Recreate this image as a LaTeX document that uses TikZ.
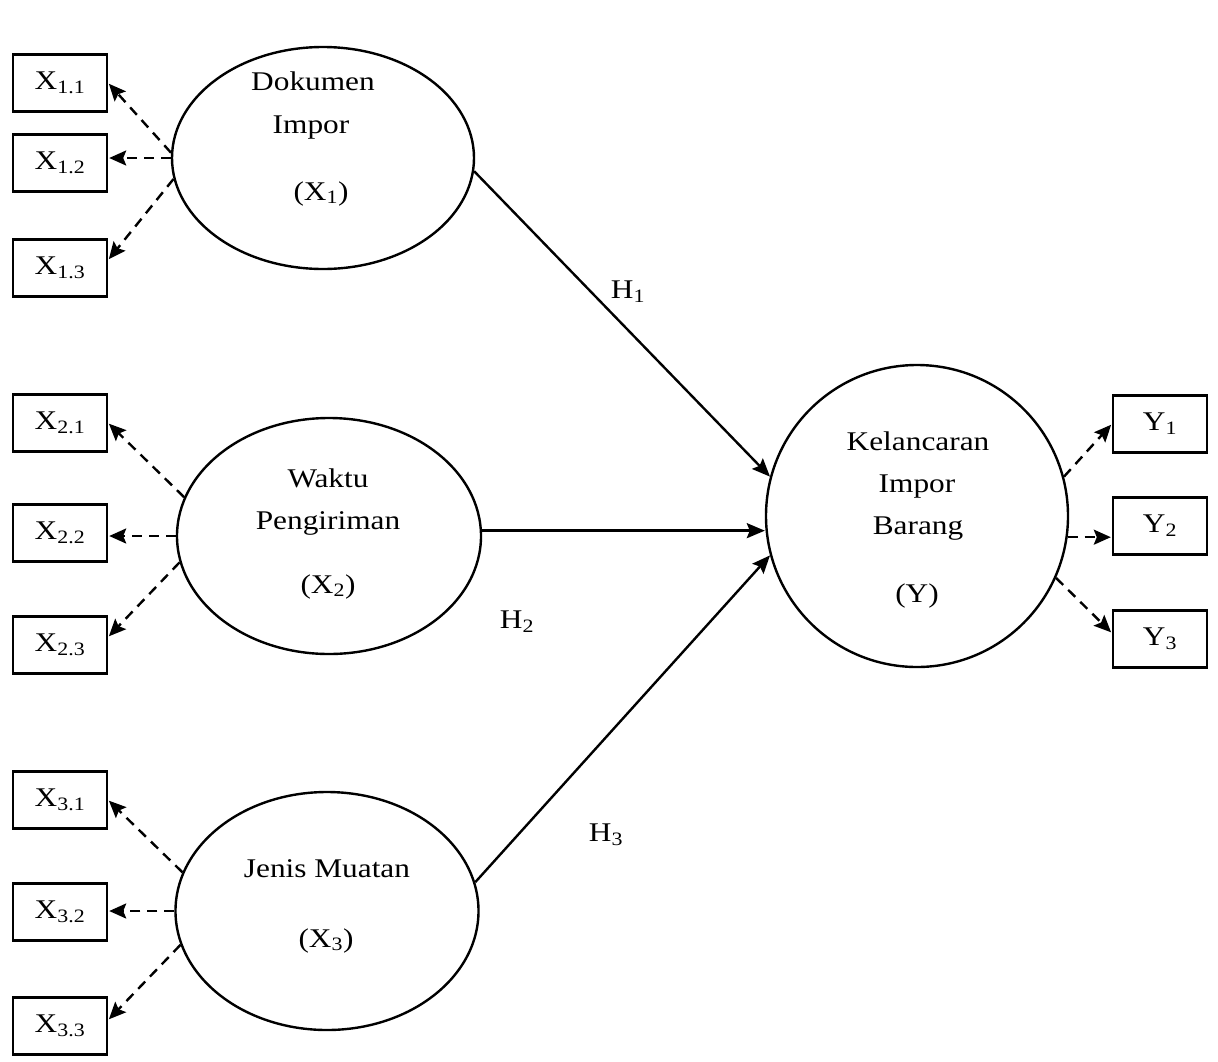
\documentclass[tikz,border=0pt]{standalone}
\usepackage{fontspec}
\setmainfont{Liberation Serif}[FakeStretch=1.16]
\usetikzlibrary{arrows.meta,calc,shapes.geometric}
\begin{document}
\begin{tikzpicture}[x=1pt,y=-1pt,
  font=\fontsize{27}{31}\selectfont,
  latent/.style={ellipse,draw,line width=2.4pt,inner sep=0pt},
  indbox/.style={rectangle,draw,line width=2.4pt,minimum width=94pt,minimum height=57pt,inner sep=0pt},
  txt/.style={anchor=base,inner sep=0pt},
  loadarrow/.style={line width=2.4pt,dash pattern=on 10pt off 7pt,-{Stealth[length=17pt,width=15pt,inset=3pt]},shorten >=1pt},
  patharrow/.style={line width=2.4pt,-{Stealth[length=18pt,width=15pt,inset=3pt]}},
  hlabel/.style={inner sep=0pt}]
\useasboundingbox (0,0) rectangle (1218,1061);

% latent variables
\node[latent,minimum width=302pt,minimum height=222pt] (e1) at (323,158) {};
\node[latent,minimum width=304pt,minimum height=236pt] (e2) at (329,536) {};
\node[latent,minimum width=303pt,minimum height=238pt] (e3) at (327,911) {};
\node[latent,minimum width=302pt,minimum height=302pt] (ey) at (917,516) {};

% texts in ellipses
\node[txt] (t11) at (313,90) {Dokumen};
\node[txt] (t12) at (311,133) {Impor};
\node[txt] (t13) at (321,200) {(X\textsubscript{1})};
\node[txt] (t21) at (328,487) {Waktu};
\node[txt] (t22) at (328,529) {Pengiriman};
\node[txt] (t23) at (328,593) {(X\textsubscript{2})};
\node[txt] (t31) at (327,877) {Jenis Muatan};
\node[txt] (t32) at (326,947) {(X\textsubscript{3})};
\node[txt] (ty1) at (918,450) {Kelancaran};
\node[txt] (ty2) at (917,492) {Impor};
\node[txt] (ty3) at (918,534) {Barang};
\node[txt] (ty4) at (917,602) {(Y)};

% indicator boxes
\node[indbox] (X11) at (60,83) {X\textsubscript{1.1}};
\node[indbox] (X12) at (60,163) {X\textsubscript{1.2}};
\node[indbox] (X13) at (60,268) {X\textsubscript{1.3}};
\node[indbox] (X21) at (60,423) {X\textsubscript{2.1}};
\node[indbox] (X22) at (60,533) {X\textsubscript{2.2}};
\node[indbox] (X23) at (60,645) {X\textsubscript{2.3}};
\node[indbox] (X31) at (60,800) {X\textsubscript{3.1}};
\node[indbox] (X32) at (60,912) {X\textsubscript{3.2}};
\node[indbox] (X33) at (60,1026) {X\textsubscript{3.3}};
\node[indbox] (Y1) at (1160,424) {Y\textsubscript{1}};
\node[indbox] (Y2) at (1160,526) {Y\textsubscript{2}};
\node[indbox] (Y3) at (1160,639) {Y\textsubscript{3}};

% loadings
\draw[loadarrow] (e1.178) -- (X11.east);
\draw[loadarrow] (e1.west) -- (e1.west -| X12.east);
\draw[loadarrow] (e1.188) -- ($(X13.east)+(0,-8)$);
\draw[loadarrow] (e2.165) -- (X21.east);
\draw[loadarrow] (e2.west) -- (e2.west -| X22.east);
\draw[loadarrow] (e2.190) -- ($(X23.east)+(0,-8)$);
\draw[loadarrow] (e3.165) -- (X31.east);
\draw[loadarrow] (e3.west) -- (e3.west -| X32.east);
\draw[loadarrow] (e3.193) -- ($(X33.east)+(0,-6)$);
\draw[loadarrow] (ey.15) -- (Y1.west);
\draw[loadarrow] (ey.-8) -- (ey.-8 -| Y2.west);
\draw[loadarrow] (ey.-24) -- ($(Y3.west)+(0,-6)$);

% structural paths
\draw[patharrow] (e1.-5) -- (ey.165);
\draw[patharrow] (e2.2) -- (e2.2 -| ey.west);
\draw[patharrow] (e3.11) -- (ey.195);

% hypothesis labels
\node[hlabel] (h1) at (628,292) {H\textsubscript{1}};
\node[hlabel] (h2) at (517,622) {H\textsubscript{2}};
\node[hlabel] (h3) at (606,835) {H\textsubscript{3}};
\end{tikzpicture}
\end{document}
